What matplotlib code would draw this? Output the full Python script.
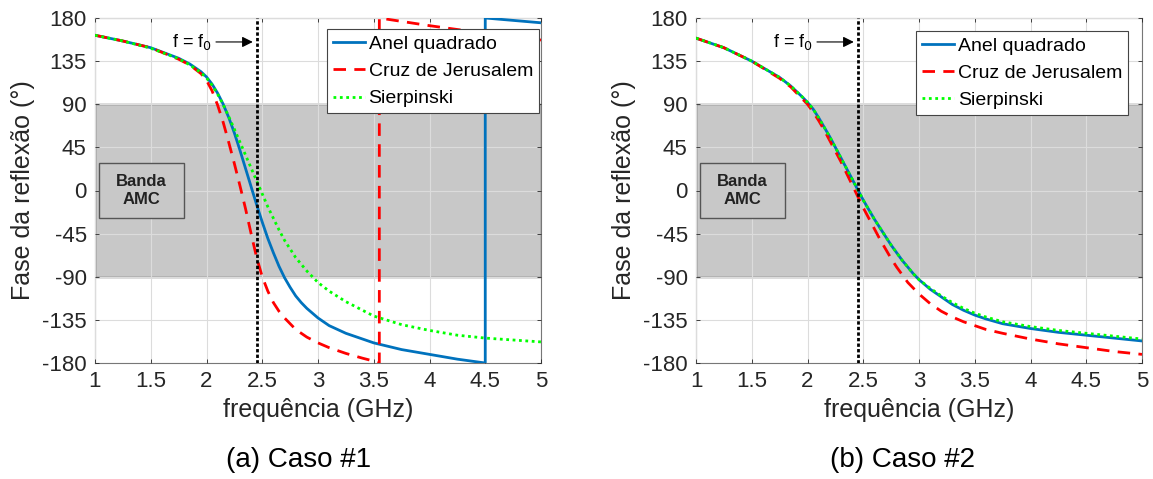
import matplotlib
matplotlib.use("Agg")
import matplotlib.pyplot as plt
from matplotlib.patches import Rectangle

plt.rcParams['font.family'] = ['Liberation Sans', 'DejaVu Sans']
plt.rcParams['axes.unicode_minus'] = False

# ---- data (frequency in GHz, phase in degrees) ----
# Caso #1
c1_anel_f = [1.0, 1.25, 1.5, 1.75, 1.85, 1.95, 2.0, 2.05, 2.1, 2.15, 2.2, 2.25, 2.3, 2.35,
             2.4, 2.45, 2.5, 2.55, 2.6, 2.65, 2.7, 2.75, 2.8, 2.85, 2.9, 3.0, 3.1, 3.25,
             3.5, 3.75, 4.0, 4.25, 4.5, 4.5, 4.75, 5.0]
c1_anel_p = [162, 156, 149, 138, 132, 124, 118.5, 111, 101.5, 90, 76, 60, 42, 23,
             4, -15, -33, -50, -65, -79, -91, -101, -110, -117, -123, -133, -141, -149,
             -159, -166, -171, -176, -180, 180, 177.5, 175]

c1_cruz_f = [1.0, 1.25, 1.5, 1.75, 1.85, 1.95, 2.0, 2.05, 2.1, 2.15, 2.2, 2.25, 2.3, 2.35,
             2.4, 2.45, 2.5, 2.55, 2.6, 2.65, 2.7, 2.8, 2.9, 3.0, 3.1, 3.25, 3.4, 3.5,
             3.55, 3.55, 4.0, 4.5, 5.0]
c1_cruz_p = [162, 156, 149, 137, 131, 122, 115, 104, 89, 71, 50, 28, 5, -19,
             -45, -70, -90, -105, -117, -126, -133, -145, -153, -159, -164, -170, -175, -178,
             -180, 180, 172, 164, 157]

c1_sierp_f = [1.0, 1.25, 1.5, 1.75, 1.85, 1.95, 2.0, 2.05, 2.1, 2.15, 2.2, 2.25, 2.3, 2.35,
              2.4, 2.45, 2.5, 2.55, 2.6, 2.65, 2.7, 2.75, 2.8, 2.9, 3.0, 3.1, 3.25, 3.5,
              3.75, 4.0, 4.25, 4.5, 4.75, 5.0]
c1_sierp_p = [162, 156, 148.5, 137.5, 131, 123, 117.5, 110, 100.5, 89.5, 77, 64, 50.5, 37,
              23.5, 10, -3.5, -17, -29, -41, -52, -61, -70, -84, -96, -105, -116, -131,
              -140, -146, -151, -154, -156, -158]

# Caso #2
c2_anel_f = [1.0, 1.25, 1.5, 1.75, 1.85, 1.95, 2.0, 2.05, 2.1, 2.15, 2.2, 2.25, 2.3, 2.35,
             2.4, 2.45, 2.5, 2.55, 2.6, 2.65, 2.7, 2.75, 2.8, 2.85, 2.9, 2.95, 3.0, 3.1,
             3.2, 3.3, 3.4, 3.5, 3.6, 3.75, 4.0, 4.25, 4.5, 4.75, 5.0]
c2_anel_p = [159, 149, 135, 118, 109, 98, 92, 85, 76, 66, 56, 45, 34, 23,
             12, 1, -10, -20, -30, -39, -48, -57, -65, -73, -80, -87, -93, -103,
             -111, -119, -125, -130, -134, -139, -144, -148, -151, -154, -157]

c2_cruz_f = [1.0, 1.25, 1.5, 1.75, 1.85, 1.95, 2.0, 2.05, 2.1, 2.15, 2.2, 2.25, 2.3, 2.35,
             2.4, 2.45, 2.5, 2.55, 2.6, 2.65, 2.7, 2.75, 2.8, 2.85, 2.9, 3.0, 3.1, 3.2,
             3.3, 3.4, 3.5, 3.6, 3.75, 4.0, 4.25, 4.5, 4.75, 5.0]
c2_cruz_p = [159, 149, 135, 117, 108, 96, 90, 82, 73, 63, 52, 41, 30, 18,
             6, -6, -18, -29, -40, -51, -61, -71, -80, -88, -96, -108, -118, -126,
             -132, -137, -141, -145, -149, -155, -160, -164, -168, -171]

c2_sierp_f = [1.0, 1.25, 1.5, 1.75, 1.85, 1.95, 2.0, 2.05, 2.1, 2.15, 2.2, 2.25, 2.3, 2.35,
              2.4, 2.45, 2.5, 2.55, 2.6, 2.65, 2.7, 2.75, 2.8, 2.85, 2.9, 2.95, 3.0, 3.1,
              3.2, 3.3, 3.4, 3.5, 3.6, 3.75, 4.0, 4.25, 4.5, 4.75, 5.0]
c2_sierp_p = [159, 149, 135, 118, 109, 98, 92, 85, 76, 66, 56, 45, 34, 23,
              12, 1, -10, -20, -30, -39, -48, -57, -65, -73, -80, -87, -93, -102,
              -110, -117, -123, -128, -132, -137, -142, -146, -149, -152, -155]

f0 = 2.45
band = (-90, 90)
series_names = ['Anel quadrado', 'Cruz de Jerusalem', 'Sierpinski']
captions = ['(a) Caso #1', '(b) Caso #2']
xticks = [1, 1.5, 2, 2.5, 3, 3.5, 4, 4.5, 5]
xticklabels = ['1', '1.5', '2', '2.5', '3', '3.5', '4', '4.5', '5']
yticks = list(range(-180, 181, 45))

cases = [
    [(c1_anel_f, c1_anel_p), (c1_cruz_f, c1_cruz_p), (c1_sierp_f, c1_sierp_p)],
    [(c2_anel_f, c2_anel_p), (c2_cruz_f, c2_cruz_p), (c2_sierp_f, c2_sierp_p)],
]

styles = [
    dict(color='#0072BD', lw=2.0, ls='-'),
    dict(color='#FF0000', lw=2.0, dashes=(4.5, 3)),
    dict(color='#00FF00', lw=2.0, dashes=(1, 1.3)),
]

W, H = 1153, 479
fig = plt.figure(figsize=(W / 100, H / 100), dpi=100)

lefts = [95, 696]
legend_anchor = [(0.995, 0.967), (0.969, 0.962)]
caption_x = [299, 902]

for i, data in enumerate(cases):
    ax = fig.add_axes([lefts[i] / W, 1 - 363 / H, 446 / W, 345 / H])

    # AMC band
    ax.add_patch(Rectangle((1, band[0]), 4, band[1] - band[0], facecolor='#C8C8C8',
                           edgecolor='#555555', lw=1.0, zorder=0.5))
    ax.grid(True, color='#dcdcdc', lw=0.8, zorder=1)
    ax.set_axisbelow(False)

    handles = []
    for (fx, py), st, name in zip(data, styles, series_names):
        h, = ax.plot(fx, py, label=name, zorder=3, **st)
        handles.append(h)

    ax.axvline(f0, color='black', lw=2.0, dashes=(1.2, 0.8), zorder=4)

    # f = f0 marker
    ax.annotate('', xy=(f0 - 0.01, 155), xytext=(2.06, 155),
                arrowprops=dict(arrowstyle='-|>', color='black', lw=0.8,
                                mutation_scale=16), zorder=5)
    ax.text(2.045, 150, r'f = f$_0$', ha='right', va='baseline', fontsize=13, zorder=5)

    # Banda AMC label box
    ax.add_patch(Rectangle((1.04, -28.5), 0.755, 57, facecolor='#C8C8C8',
                           edgecolor='#555555', lw=1.0, zorder=5))
    ax.text(1.415, 0, 'Banda\nAMC', ha='center', va='center', fontsize=12,
            fontweight='bold', color='#222222', linespacing=1.3, zorder=6)

    ax.set_xlim(1, 5)
    ax.set_ylim(-180, 180)
    ax.set_xticks(xticks)
    ax.set_xticklabels(xticklabels)
    ax.set_yticks(yticks)
    ax.tick_params(direction='in', length=3, width=0.6, labelsize=16, colors='#262626',
                   top=True, right=True, pad=6)
    for sp in ax.spines.values():
        sp.set_color('#777777')
        sp.set_linewidth(0.8)

    ax.set_xlabel('frequência (GHz)', fontsize=18, color='#262626', labelpad=4)
    ax.set_ylabel('Fase da reflexão (°)', fontsize=18, color='#262626', labelpad=5)

    leg = ax.legend(handles=handles, loc='upper right', bbox_to_anchor=legend_anchor[i],
                    fontsize=14, handlelength=1.65, handletextpad=0.2, borderpad=0.3,
                    labelspacing=0.5, borderaxespad=0, fancybox=False, framealpha=1)
    leg.get_frame().set_edgecolor('#444444')
    leg.get_frame().set_linewidth(0.8)
    leg.set_zorder(10)

    fig.text(caption_x[i] / W, 1 - 460 / H, captions[i], ha='center', va='center',
             fontsize=20, color='black')

fig.savefig('out.png', dpi=100)
